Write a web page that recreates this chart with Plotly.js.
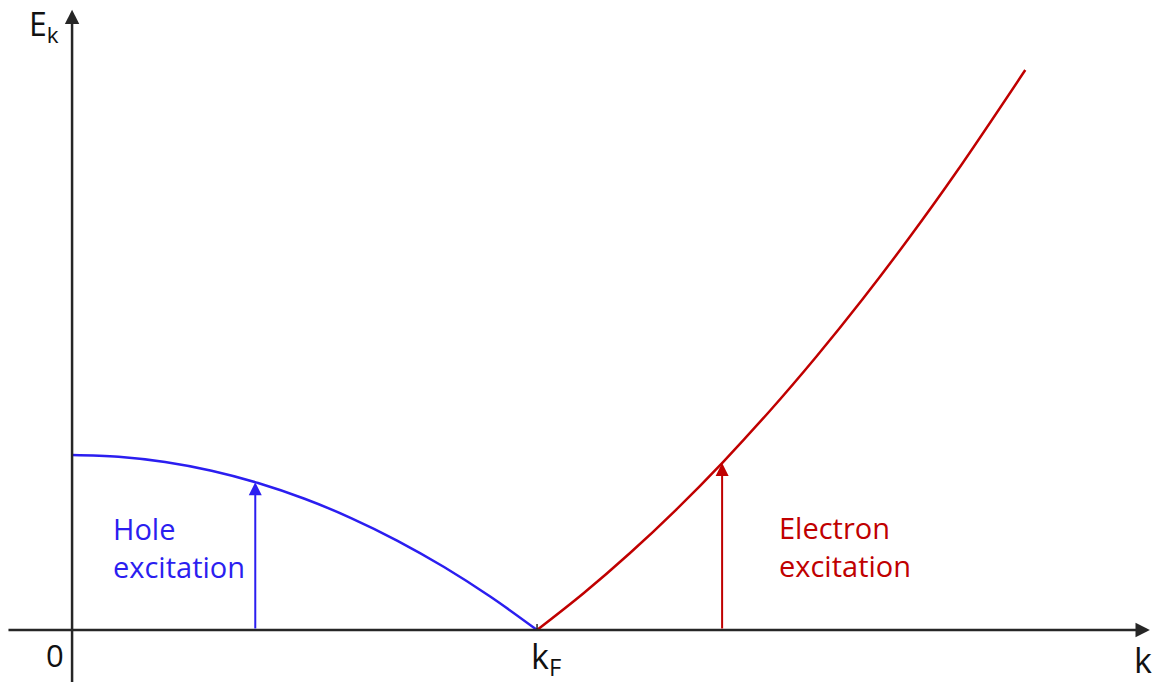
<!DOCTYPE html>
<html>
<head>
<meta charset="utf-8">
<script src="https://cdn.plot.ly/plotly-3.0.1.min.js"></script>
<style>html,body{margin:0;padding:0;background:#fff;}#chart{width:1159px;height:682px;}</style>
</head>
<body>
<div id="chart"></div>
<script>
// Hole branch (blue)
const holeK = [0, 0.1, 0.2, 0.3, 0.4, 0.5, 0.6, 0.7, 0.8, 0.9, 1.0];
const holeE = [1.0, 0.99, 0.96, 0.91, 0.84, 0.75, 0.64, 0.51, 0.36, 0.19, 0];
// Electron branch (red)
const elecK = [1.0, 1.1, 1.2, 1.3, 1.4, 1.5, 1.6, 1.7, 1.8, 1.9, 2.05];
const elecE = [0, 0.21, 0.44, 0.69, 0.96, 1.25, 1.56, 1.89, 2.24, 2.61, 3.2];
// Excitation arrows: [k, E at top]
const holeArrow = [0.394, 0.845];
const elecArrow = [1.398, 0.954];
// Labels
const labelE = 'E<sub>k</sub>';
const labelZero = '0';
const labelKF = 'k<sub>F</sub>';
const labelK = 'k';
const labelHole = 'Hole<br>excitation';
const labelElec = 'Electron<br>excitation';

const BLUE = '#2b1ef0';
const RED = '#c00000';
const AX = '#262626';
const FONT = 'Open Sans, sans-serif';

const traces = [
  {x: holeK, y: holeE, mode: 'lines', line: {color: BLUE, width: 2.5, shape: 'spline'}, hoverinfo: 'skip'},
  {x: elecK, y: elecE, mode: 'lines', line: {color: RED, width: 2.5, shape: 'spline'}, hoverinfo: 'skip'}
];

function arrow(x0, y0, x1, y1, color, w, size) {
  return {x: x1, y: y1, ax: x0, ay: y0, xref: 'x', yref: 'y', axref: 'x', ayref: 'y',
    text: '', showarrow: true, arrowhead: 2, arrowsize: size, arrowwidth: w, arrowcolor: color, standoff: 0};
}
function label(x, y, text, size, color, xa, ya, align) {
  return {x: x, y: y, xref: 'x', yref: 'y', text: text, showarrow: false,
    font: {family: FONT, size: size, color: color}, xanchor: xa || 'center', yanchor: ya || 'middle', align: align || 'center'};
}

const annotations = [
  arrow(-0.14, 0, 2.318, 0, AX, 2.5, 1.15),
  arrow(0, -0.31, 0, 3.545, AX, 2.5, 1.15),
  arrow(holeArrow[0], 0, holeArrow[0], holeArrow[1], BLUE, 2, 1.3),
  arrow(elecArrow[0], 0, elecArrow[0], elecArrow[1], RED, 2, 1.3),
  label(-0.098, 3.45, labelE, 32, '#111', 'left', 'middle'),
  label(-0.037, -0.14, labelZero, 31, '#111'),
  label(1.02, -0.16, labelKF, 34, '#111'),
  label(2.303, -0.17, labelK, 34, '#111'),
  label(0.084, 0.47, labelHole, 29, BLUE, 'left', 'middle', 'left'),
  label(1.516, 0.475, labelElec, 29, RED, 'left', 'middle', 'left')
];

const layout = {
  width: 1159, height: 682,
  margin: {l: 0, r: 0, t: 0, b: 0, pad: 0},
  paper_bgcolor: '#fff', plot_bgcolor: '#fff',
  showlegend: false,
  xaxis: {range: [-0.155, 2.3376], visible: false, fixedrange: true},
  yaxis: {range: [-0.297, 3.6], visible: false, fixedrange: true},
  shapes: [
    {type: 'line', xref: 'x', yref: 'y', x0: 1, x1: 1, y0: 0, y1: 0.035, line: {color: AX, width: 1.5}}
  ],
  annotations: annotations
};

Plotly.newPlot('chart', traces, layout, {displayModeBar: false, staticPlot: true});
</script>
</body>
</html>
